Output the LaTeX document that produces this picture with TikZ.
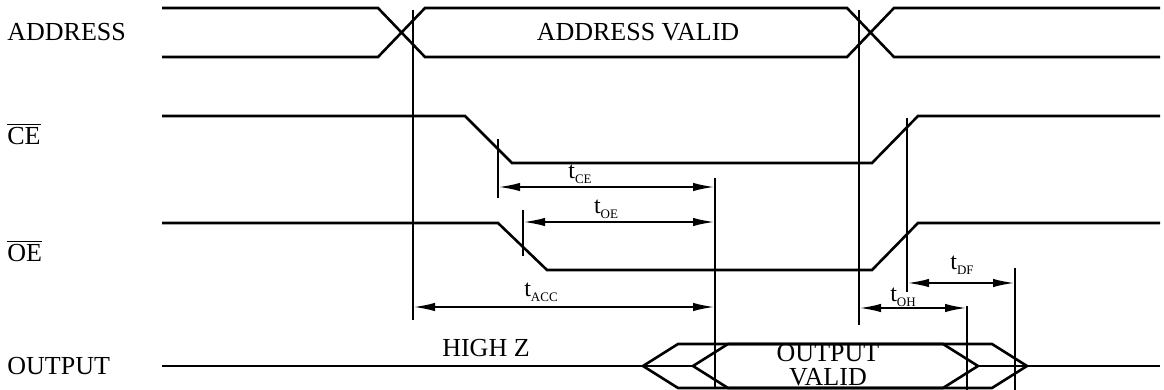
\documentclass[tikz,border=0pt]{standalone}
\usepackage{fontspec}
\setmainfont{Liberation Serif}
\usetikzlibrary{arrows.meta}
\newcommand{\tdly}[1]{t\raisebox{-2.6pt}{\fontsize{6.5}{7}\selectfont #1}}
\begin{document}
\begin{tikzpicture}[x=0.5pt,y=-0.5pt,
  sig/.style={line width=1.3pt, line join=miter},
  guide/.style={line width=1.2pt},
  dimline/.style={line width=1.1pt, {Latex[length=11pt,width=4.2pt]}-{Latex[length=11pt,width=4.2pt]}},
  lbl/.style={font=\fontsize{13}{15}\selectfont, inner sep=0pt},
  tlbl/.style={font=\fontsize{12}{14}\selectfont, inner sep=0pt}]
\useasboundingbox (0,0) rectangle (1164,390);

% signal names
\node[lbl, anchor=west] (nAddr) at (7,32) {ADDRESS};
\node[lbl, anchor=west] (nCE) at (7,134) {$\overline{\mbox{CE}}$};
\node[lbl, anchor=west] (nOE) at (7,251) {$\overline{\mbox{OE}}$};
\node[lbl, anchor=west] (nOut) at (7,366) {OUTPUT};

% ADDRESS bus
\draw[sig] (162,8) -- (378,8) -- (425,57) -- (847,57) -- (894,8) -- (1160,8);
\draw[sig] (162,57) -- (378,57) -- (425,8) -- (847,8) -- (894,57) -- (1160,57);
\node[lbl] (nAV) at (638,32) {ADDRESS VALID};

% CE
\draw[sig] (162,116) -- (465,116) -- (512,163) -- (872,163) -- (918,116) -- (1160,116);
% OE
\draw[sig] (162,223) -- (498,223) -- (547,270) -- (872,270) -- (918,223) -- (1160,223);

% OUTPUT
\draw[sig] (162,366) -- (693,366);
\draw[sig] (978,366) -- (1160,366);
\draw[sig] (693,366) -- (728,344) -- (943,344) -- (978,366) -- (943,388) -- (728,388) -- cycle;
\draw[sig] (643,366) -- (678,344) -- (992,344) -- (1027,366) -- (992,388) -- (678,388) -- cycle;
\node[lbl, align=center, font=\fontsize{13}{12}\selectfont] (nOV) at (828,365) {OUTPUT\\VALID};
\node[lbl] (nHZ) at (486,348) {HIGH Z};

% reference verticals
\coordinate (a1) at (413,10);  \coordinate (a2) at (413,320);
\coordinate (b1) at (859,10);  \coordinate (b2) at (859,325);
\coordinate (c1) at (498,139); \coordinate (c2) at (498,198);
\coordinate (d1) at (523,210); \coordinate (d2) at (523,256);
\coordinate (e1) at (715,178); \coordinate (e2) at (715,388);
\coordinate (f1) at (907,118); \coordinate (f2) at (907,292);
\coordinate (g1) at (967,306); \coordinate (g2) at (967,390);
\coordinate (h1) at (1015,268); \coordinate (h2) at (1015,390);
\foreach \p in {a,b,c,d,e,f,g,h} \draw[guide] (\p1) -- (\p2);

% dimension arrows
\coordinate (ceL) at (498,187);  \coordinate (ceR) at (715,187);
\coordinate (oeL) at (523,222);  \coordinate (oeR) at (715,222);
\coordinate (acL) at (413,307);  \coordinate (acR) at (715,307);
\coordinate (dfL) at (907,283);  \coordinate (dfR) at (1015,283);
\coordinate (ohL) at (859,308);  \coordinate (ohR) at (967,308);
\draw[dimline] (ceL) -- (ceR);
\draw[dimline] (oeL) -- (oeR);
\draw[dimline] (acL) -- (acR);
\draw[dimline] (dfL) -- (dfR);
\draw[dimline] (ohL) -- (ohR);

\node[tlbl] (tCE) at (580,174) {\tdly{CE}};
\node[tlbl] (tOE) at (606,209) {\tdly{OE}};
\node[tlbl] (tACC) at (541,292) {\tdly{ACC}};
\node[tlbl] (tDF) at (962,265) {\tdly{DF}};
\node[tlbl] (tOH) at (903,297) {\tdly{OH}};
\end{tikzpicture}
\end{document}
